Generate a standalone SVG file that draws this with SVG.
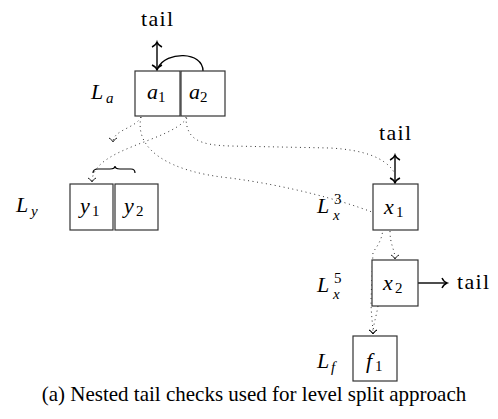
<svg xmlns="http://www.w3.org/2000/svg" width="498" height="419" viewBox="0 0 498 419">
<defs>
<style>
text{font-family:'Liberation Serif','Times New Roman','DejaVu Serif',serif}
.box{fill:#fff;stroke:#333;stroke-width:1.2}
.m{font-style:italic;font-size:22px;fill:#000}
.s{font-size:15px;fill:#000}
.si{font-style:italic;font-size:15px;fill:#000}
.t{font-size:22px;fill:#000}
.cap{font-size:21px;fill:#000}
.solid{fill:none;stroke:#000;stroke-width:1.4}
.dot{fill:none;stroke:#333;stroke-width:1;stroke-dasharray:1 3.5}
</style>
<marker id="to" markerUnits="userSpaceOnUse" markerWidth="14" markerHeight="14" viewBox="-7 -7 14 14" refX="0" refY="0" orient="auto-start-reverse" overflow="visible">
<path d="M-5,-5 C-3.5,-1.8 -1.2,-0.4 0,0 C-1.2,0.4 -3.5,1.8 -5,5" fill="none" stroke="#000" stroke-width="1.4"/>
</marker>
<marker id="dto" markerUnits="userSpaceOnUse" markerWidth="12" markerHeight="12" viewBox="-6 -6 12 12" refX="0" refY="0" orient="auto" overflow="visible">
<path d="M-4,-4 C-2.5,-1.5 -1,-0.3 0,0 C-1,0.3 -2.5,1.5 -4,4" fill="none" stroke="#000" stroke-width="0.9"/>
</marker>
</defs>
<g id="connectors">
<path class="solid" d="M157,70 L157,42" marker-start="url(#to)" marker-end="url(#to)"/>
<path class="solid" d="M203,71 C203,51 166,51 158,68"/>
<path class="solid" d="M395,183 L395,155" marker-start="url(#to)" marker-end="url(#to)"/>
<path class="solid" d="M418,283 L447,283" marker-end="url(#to)"/>
<path class="dot" d="M141,117 C136,128 113,130 113,142" marker-end="url(#dto)"/>
<path class="dot" d="M187,118 C170,142 92,148 92,182" marker-end="url(#dto)"/>
<path class="dot" d="M141,117 C134,150 170,172 230,178 C290,186 340,200 372,212 C386,220 386,236 373,252 L371,300 C371,315 373,325 373,334" marker-end="url(#dto)"/>
<path class="dot" d="M186,117 C186,140 200,145 230,146 L330,148 C365,150 385,158 394,172"/>
<path class="dot" d="M390,231 C390,245 395,250 395,259" marker-end="url(#dto)"/>
<path class="dot" d="M378,306 C376,318 373,325 373,334" marker-end="url(#dto)"/>
</g>
<g id="brace">
<path d="M93,173 Q93,169 98,169 L110,169 Q115,169 115,166 Q115,169 120,169 L131,169 Q135,169 135,173" fill="none" stroke="#000" stroke-width="1.2"/>
</g>
<g id="tail-top"><text class="t" x="141" y="26" textLength="32">tail</text></g>
<g id="tail-x1"><text class="t" x="379" y="140" textLength="32">tail</text></g>
<g id="tail-x2"><text class="t" x="457" y="289" textLength="32">tail</text></g>
<g id="label-La"><text class="m" x="91" y="99">L</text><text class="si" x="106" y="103">a</text></g>
<g id="node-a1"><rect class="box" x="135" y="71" width="45" height="45"/><text class="m" x="147" y="99">a</text><text class="s" x="158" y="102">1</text></g>
<g id="node-a2"><rect class="box" x="181" y="71" width="44" height="45"/><text class="m" x="189" y="99">a</text><text class="s" x="200" y="102">2</text></g>
<g id="label-Ly"><text class="m" x="16" y="212">L</text><text class="si" x="31" y="216">y</text></g>
<g id="node-y1"><rect class="box" x="70" y="184" width="43" height="46"/><text class="m" x="80" y="213">y</text><text class="s" x="92" y="216">1</text></g>
<g id="node-y2"><rect class="box" x="115" y="184" width="43" height="46"/><text class="m" x="124" y="213">y</text><text class="s" x="136" y="216">2</text></g>
<g id="label-Lx3"><text class="m" x="317" y="213">L</text><text class="s" x="334" y="204">3</text><text class="si" x="333" y="220">x</text></g>
<g id="node-x1"><rect class="box" x="373" y="184" width="45" height="46"/><text class="m" x="384" y="214">x</text><text class="s" x="396" y="217">1</text></g>
<g id="label-Lx5"><text class="m" x="317" y="292">L</text><text class="s" x="334" y="283">5</text><text class="si" x="333" y="299">x</text></g>
<g id="node-x2"><rect class="box" x="372" y="260" width="46" height="46"/><text class="m" x="383" y="290">x</text><text class="s" x="395" y="293">2</text></g>
<g id="label-Lf"><text class="m" x="317" y="368">L</text><text class="si" x="331" y="372">f</text></g>
<g id="node-f1"><rect class="box" x="353" y="336" width="44" height="45"/><text class="m" x="366" y="368">f</text><text class="s" x="375" y="371">1</text></g>
<text class="cap" x="254" y="401" text-anchor="middle">(a) Nested tail checks used for level split approach</text>
</svg>
